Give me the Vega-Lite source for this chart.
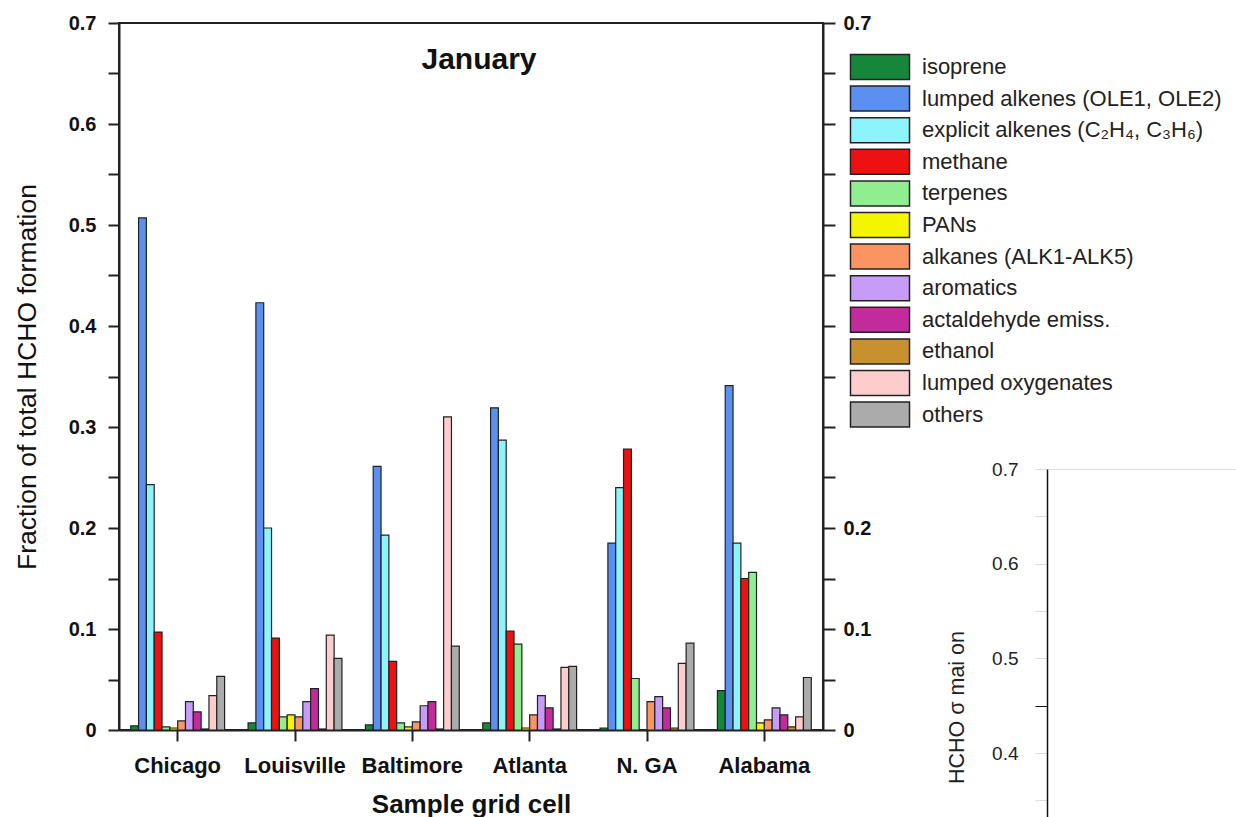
{
  "$schema": "https://vega.github.io/schema/vega-lite/v6.json",
  "background": "white",
  "padding": {"left": 13, "top": 12, "right": 0, "bottom": 0},
  "config": {"font": "Liberation Sans", "view": {"stroke": null}},
  "datasets": {
    "shares": [
      {"cell": "Chicago", "source": "isoprene", "share": 0.004},
      {"cell": "Chicago", "source": "lumped alkenes (OLE1, OLE2)", "share": 0.507},
      {"cell": "Chicago", "source": "explicit alkenes (C₂H₄, C₃H₆)", "share": 0.243},
      {"cell": "Chicago", "source": "methane", "share": 0.097},
      {"cell": "Chicago", "source": "terpenes", "share": 0.003},
      {"cell": "Chicago", "source": "PANs", "share": 0.002},
      {"cell": "Chicago", "source": "alkanes (ALK1-ALK5)", "share": 0.009},
      {"cell": "Chicago", "source": "aromatics", "share": 0.028},
      {"cell": "Chicago", "source": "actaldehyde emiss.", "share": 0.018},
      {"cell": "Chicago", "source": "ethanol", "share": 0.001},
      {"cell": "Chicago", "source": "lumped oxygenates", "share": 0.034},
      {"cell": "Chicago", "source": "others", "share": 0.053},
      {"cell": "Louisville", "source": "isoprene", "share": 0.007},
      {"cell": "Louisville", "source": "lumped alkenes (OLE1, OLE2)", "share": 0.423},
      {"cell": "Louisville", "source": "explicit alkenes (C₂H₄, C₃H₆)", "share": 0.2},
      {"cell": "Louisville", "source": "methane", "share": 0.091},
      {"cell": "Louisville", "source": "terpenes", "share": 0.013},
      {"cell": "Louisville", "source": "PANs", "share": 0.015},
      {"cell": "Louisville", "source": "alkanes (ALK1-ALK5)", "share": 0.013},
      {"cell": "Louisville", "source": "aromatics", "share": 0.028},
      {"cell": "Louisville", "source": "actaldehyde emiss.", "share": 0.041},
      {"cell": "Louisville", "source": "ethanol", "share": 0.001},
      {"cell": "Louisville", "source": "lumped oxygenates", "share": 0.094},
      {"cell": "Louisville", "source": "others", "share": 0.071},
      {"cell": "Baltimore", "source": "isoprene", "share": 0.005},
      {"cell": "Baltimore", "source": "lumped alkenes (OLE1, OLE2)", "share": 0.261},
      {"cell": "Baltimore", "source": "explicit alkenes (C₂H₄, C₃H₆)", "share": 0.193},
      {"cell": "Baltimore", "source": "methane", "share": 0.068},
      {"cell": "Baltimore", "source": "terpenes", "share": 0.007},
      {"cell": "Baltimore", "source": "PANs", "share": 0.003},
      {"cell": "Baltimore", "source": "alkanes (ALK1-ALK5)", "share": 0.008},
      {"cell": "Baltimore", "source": "aromatics", "share": 0.024},
      {"cell": "Baltimore", "source": "actaldehyde emiss.", "share": 0.028},
      {"cell": "Baltimore", "source": "ethanol", "share": 0.001},
      {"cell": "Baltimore", "source": "lumped oxygenates", "share": 0.31},
      {"cell": "Baltimore", "source": "others", "share": 0.083},
      {"cell": "Atlanta", "source": "isoprene", "share": 0.007},
      {"cell": "Atlanta", "source": "lumped alkenes (OLE1, OLE2)", "share": 0.319},
      {"cell": "Atlanta", "source": "explicit alkenes (C₂H₄, C₃H₆)", "share": 0.287},
      {"cell": "Atlanta", "source": "methane", "share": 0.098},
      {"cell": "Atlanta", "source": "terpenes", "share": 0.085},
      {"cell": "Atlanta", "source": "PANs", "share": 0.002},
      {"cell": "Atlanta", "source": "alkanes (ALK1-ALK5)", "share": 0.015},
      {"cell": "Atlanta", "source": "aromatics", "share": 0.034},
      {"cell": "Atlanta", "source": "actaldehyde emiss.", "share": 0.022},
      {"cell": "Atlanta", "source": "ethanol", "share": 0.001},
      {"cell": "Atlanta", "source": "lumped oxygenates", "share": 0.062},
      {"cell": "Atlanta", "source": "others", "share": 0.063},
      {"cell": "N. GA", "source": "isoprene", "share": 0.002},
      {"cell": "N. GA", "source": "lumped alkenes (OLE1, OLE2)", "share": 0.185},
      {"cell": "N. GA", "source": "explicit alkenes (C₂H₄, C₃H₆)", "share": 0.24},
      {"cell": "N. GA", "source": "methane", "share": 0.278},
      {"cell": "N. GA", "source": "terpenes", "share": 0.051},
      {"cell": "N. GA", "source": "PANs", "share": 0},
      {"cell": "N. GA", "source": "alkanes (ALK1-ALK5)", "share": 0.028},
      {"cell": "N. GA", "source": "aromatics", "share": 0.033},
      {"cell": "N. GA", "source": "actaldehyde emiss.", "share": 0.022},
      {"cell": "N. GA", "source": "ethanol", "share": 0.002},
      {"cell": "N. GA", "source": "lumped oxygenates", "share": 0.066},
      {"cell": "N. GA", "source": "others", "share": 0.086},
      {"cell": "Alabama", "source": "isoprene", "share": 0.039},
      {"cell": "Alabama", "source": "lumped alkenes (OLE1, OLE2)", "share": 0.341},
      {"cell": "Alabama", "source": "explicit alkenes (C₂H₄, C₃H₆)", "share": 0.185},
      {"cell": "Alabama", "source": "methane", "share": 0.15},
      {"cell": "Alabama", "source": "terpenes", "share": 0.156},
      {"cell": "Alabama", "source": "PANs", "share": 0.007},
      {"cell": "Alabama", "source": "alkanes (ALK1-ALK5)", "share": 0.01},
      {"cell": "Alabama", "source": "aromatics", "share": 0.022},
      {"cell": "Alabama", "source": "actaldehyde emiss.", "share": 0.015},
      {"cell": "Alabama", "source": "ethanol", "share": 0.003},
      {"cell": "Alabama", "source": "lumped oxygenates", "share": 0.013},
      {"cell": "Alabama", "source": "others", "share": 0.052}
    ]
  },
  "bounds": "flush",
  "spacing": 224,
  "hconcat": [
    {
      "width": 704,
      "height": 707,
      "data": {"name": "shares"},
      "view": {"stroke": "#222", "strokeWidth": 2},
      "title": {
        "text": "January",
        "fontSize": 30,
        "fontWeight": "bold",
        "color": "#111",
        "offset": -62,
        "dx": 8
      },
      "encoding": {
        "x": {
          "field": "cell",
          "type": "nominal",
          "sort": ["Chicago", "Louisville", "Baltimore", "Atlanta", "N. GA", "Alabama"],
          "scale": {"paddingInner": 0.2, "paddingOuter": 0.1},
          "axis": {
            "title": "Sample grid cell",
            "titleFontSize": 26,
            "titleFontWeight": "bold",
            "titleColor": "#111",
            "titlePadding": 15,
            "labelAngle": 0,
            "labelFontSize": 22,
            "labelFontWeight": "bold",
            "labelColor": "#111",
            "labelPadding": 14,
            "tickSize": 11,
            "tickWidth": 2,
            "tickColor": "#222",
            "domainColor": "#222",
            "domainWidth": 2,
            "grid": false
          }
        },
        "xOffset": {
          "field": "source",
          "type": "nominal",
          "sort": ["isoprene", "lumped alkenes (OLE1, OLE2)", "explicit alkenes (C₂H₄, C₃H₆)", "methane", "terpenes", "PANs", "alkanes (ALK1-ALK5)", "aromatics", "actaldehyde emiss.", "ethanol", "lumped oxygenates", "others"],
          "scale": {"paddingInner": 0, "paddingOuter": 0}
        }
      },
      "layer": [
        {
          "mark": {"type": "bar", "stroke": "#222", "strokeWidth": 1.2},
          "encoding": {
            "y": {
              "field": "share",
              "type": "quantitative",
              "scale": {"domain": [0, 0.7], "nice": false},
              "axis": {
                "orient": "left",
                "values": [0, 0.05, 0.1, 0.15, 0.2, 0.25, 0.3, 0.35, 0.4, 0.45, 0.5, 0.55, 0.6, 0.65, 0.7],
                "labelExpr": "datum.value === 0 ? '0' : (round(datum.value * 100) % 10 === 0 ? format(datum.value, '.1f') : '')",
                "labelOverlap": false,
                "labelFlush": false,
                "title": "Fraction of total HCHO formation",
                "titleFontSize": 26.5,
                "titleFontWeight": "normal",
                "titleColor": "#111",
                "titlePadding": 27,
                "labelFontSize": 20,
                "labelFontWeight": "bold",
                "labelColor": "#111",
                "labelPadding": 12,
                "tickSize": 11,
                "tickWidth": 2,
                "tickColor": "#222",
                "domainColor": "#222",
                "domainWidth": 2,
                "grid": false
              }
            },
            "color": {
              "field": "source",
              "type": "nominal",
              "scale": {
                "domain": ["isoprene", "lumped alkenes (OLE1, OLE2)", "explicit alkenes (C₂H₄, C₃H₆)", "methane", "terpenes", "PANs", "alkanes (ALK1-ALK5)", "aromatics", "actaldehyde emiss.", "ethanol", "lumped oxygenates", "others"],
                "range": ["#16873a", "#5b8ff0", "#8ef4fb", "#ee1111", "#90ee90", "#f5f500", "#fa9463", "#c69cf8", "#c32a9c", "#c99030", "#fdcccc", "#ababab"]
              },
              "legend": {
                "orient": "none",
                "legendX": 747,
                "legendY": 30,
                "title": null,
                "padding": 0,
                "symbolType": "M-2.27,-0.96H2.27V0.96H-2.27Z",
                "symbolSize": 676,
                "symbolStrokeColor": "#222",
                "symbolStrokeWidth": 1.5,
                "symbolOpacity": 1,
                "labelFontSize": 22,
                "labelColor": "#222",
                "labelOffset": 28,
                "labelLimit": 400,
                "rowPadding": -0.4
              }
            }
          }
        },
        {
          "mark": {"type": "bar", "opacity": 0},
          "encoding": {
            "y": {
              "field": "share",
              "type": "quantitative",
              "scale": {"domain": [0, 0.7], "nice": false},
              "axis": {
                "orient": "right",
                "values": [0, 0.05, 0.1, 0.15, 0.2, 0.25, 0.3, 0.35, 0.4, 0.45, 0.5, 0.55, 0.6, 0.65, 0.7],
                "labelExpr": "datum.value === 0 ? '0' : ((round(datum.value * 100) % 10 !== 0 || (datum.value > 0.25 && datum.value < 0.65)) ? '' : format(datum.value, '.1f'))",
                "labelOverlap": false,
                "labelFlush": false,
                "title": null,
                "labelFontSize": 20,
                "labelFontWeight": "bold",
                "labelColor": "#111",
                "labelPadding": 8,
                "tickSize": 12,
                "tickWidth": 2,
                "tickColor": "#222",
                "domainColor": "#222",
                "domainWidth": 2,
                "grid": false
              }
            }
          }
        }
      ],
      "resolve": {"axis": {"y": "independent"}}
    },
    {
      "bounds": "flush",
      "spacing": 0,
      "vconcat": [
        {
          "width": 191,
          "height": 446,
          "data": {"values": []},
          "mark": "point",
          "view": {"stroke": null}
        },
        {
          "width": 191,
          "height": 349,
          "data": {"values": []},
          "mark": "bar",
          "view": {"stroke": null},
          "encoding": {
            "y": {
              "field": "share",
              "type": "quantitative",
              "scale": {"domain": [0.3315, 0.7], "nice": false, "zero": false},
              "axis": {
                "values": [0.35, 0.4, 0.45, 0.5, 0.55, 0.6, 0.65, 0.7],
                "labelExpr": "round(datum.value * 100) % 10 === 0 ? format(datum.value, '.1f') : ''",
                "labelOverlap": false,
                "labelFlush": false,
                "labelFontSize": 19,
                "labelColor": "#222",
                "labelPadding": 17,
                "tickSize": 12,
                "tickColor": {"condition": {"test": "datum.value === 0.45", "value": "#111"}, "value": "#dddddd"},
                "domainColor": "#111",
                "domainWidth": 1.5,
                "grid": true,
                "gridColor": "#dddddd",
                "gridOpacity": {"condition": {"test": "datum.value === 0.7", "value": 1}, "value": 0},
                "title": "HCHO σ mai on",
                "titleFontSize": 21.5,
                "titleFontWeight": "normal",
                "titleColor": "#222",
                "titlePadding": 23,
                "titleY": 238
              }
            }
          }
        }
      ]
    }
  ]
}
